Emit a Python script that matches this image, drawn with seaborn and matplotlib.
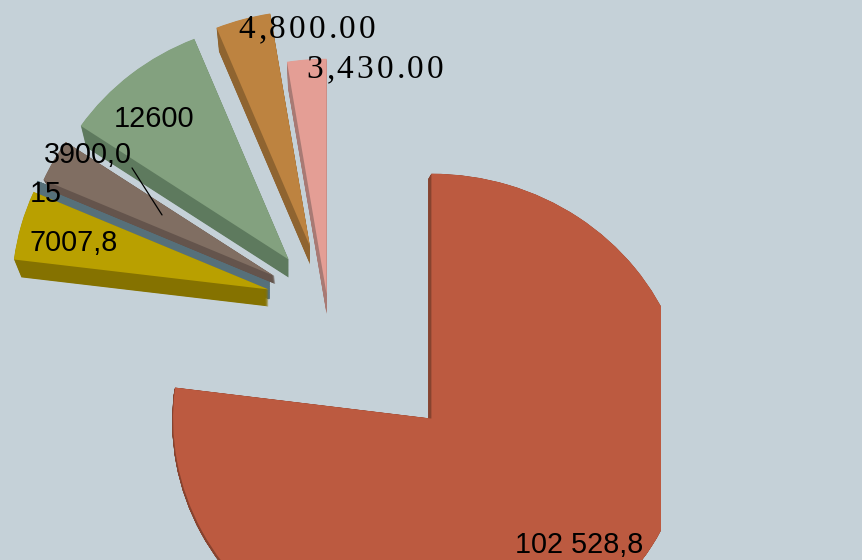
import numpy as np
import seaborn as sns
import matplotlib.pyplot as plt
from matplotlib.patches import Wedge, Rectangle

values = [102528.8, 7007.8, 15, 3900.0, 12600, 4800, 3430]
labels = ['102 528,8', '7007,8', '15', '3900,0', '12600', '4,800.00', '3,430.00']
top_colors = ['#bc5a40', '#b9a000', '#5b747c', '#806e62', '#83a17f', '#bd8340', '#e49e95']
side_colors = ['#87432f', '#857200', '#56707a', '#64544c', '#5e7a5e', '#8f6430', '#a87a74']

# look of the exploded 3d pie
explode = [142, 67, 68, 70, 70, 67, 17]
nudge_x = [2, 9, 7, 11, 7, 1, 0]
nudge_y = [3, -5, -6, -1, 3, 0, 0]
radius_scale = [1.02, 1.013, 1.0, 0.996, 0.992, 0.983, 0.98]
depth_x = [-3, 0, 0, 1, 0, 0, 0]
depth_y = [3, 17, 21, 8, 18, 18, 20]
shrink = [2, 7, 6, 6, 6, 6, 6]
side_lw = [0, 0, 1.0, 0, 0, 0, 0]
layer = [3, 3, 2, 3, 3, 3, 3]
bg = '#c5d1d8'
x_stretch = 1.055

sns.set_theme(style='white', rc={'figure.facecolor': bg, 'axes.facecolor': bg})

fig = plt.figure(figsize=(8.621, 5.601), dpi=100)
ax = fig.add_axes([0, 0, 1, 1])

wedges, _ = ax.pie(values, explode=explode, colors=sns.color_palette(top_colors),
                   startangle=90, counterclock=False, radius=240,
                   center=(328 / x_stretch, 560 - 311))
ax.set_aspect('auto')
ax.set_xlim(0, 862 / x_stretch)
ax.set_ylim(0, 560)
ax.axis('off')

# perspective opens the edge between the first two slices a little
wedges[0].set_theta1(wedges[0].theta1 - 2.4)
wedges[1].set_theta2(wedges[1].theta2 - 2.2)

clip_box = Rectangle((0, 0), 661 / x_stretch, 560, transform=ax.transData)

for i, w in enumerate(wedges):
    r = w.r * radius_scale[i]
    w.set_radius(r)
    w.set_center((w.center[0] + nudge_x[i] / x_stretch, w.center[1] - nudge_y[i]))
    w.set_linewidth(0)
    w.set_zorder(layer[i])
    # side face, swept down under the top face
    for t in np.linspace(1, 0.02, 32):
        side = Wedge((w.center[0] + depth_x[i] * t / x_stretch, w.center[1] - depth_y[i] * t),
                     r - shrink[i] * t, w.theta1, w.theta2,
                     facecolor=side_colors[i], edgecolor=side_colors[i],
                     linewidth=side_lw[i], zorder=layer[i] - 0.5)
        ax.add_patch(side)
        if i == 0:
            side.set_clip_path(clip_box)
    if i == 0:
        w.set_clip_on(True)
        w.set_clip_path(clip_box)


def put(s, x, y, **kw):
    fig.text(x / 862, 1 - y / 560, s, color='black', va='baseline', zorder=10, **kw)


def spaced(s, x, y, size, step):
    # serif labels have wide letter spacing
    for ch in s:
        put(ch, x, y, family='Liberation Serif', fontsize=size)
        x += step * (0.5 if ch in ',.' else 1)


put(labels[0], 515, 553, family='Liberation Sans', fontsize=20.7)
put(labels[1], 29, 251, family='Liberation Sans', fontsize=20.7)
put(labels[2], 30, 202, family='Liberation Sans', fontsize=20.7)
put(labels[3], 44, 163, family='Liberation Sans', fontsize=20.7)
put(labels[4], 114, 127, family='Liberation Sans', fontsize=20.8)
spaced(labels[5], 238, 38, 24, 20.2)
spaced(labels[6], 306, 78, 24, 20.2)

ax.plot([132 / x_stretch, 162 / x_stretch], [560 - 168, 560 - 215], color='black', lw=0.9, zorder=9)

fig.savefig('out.png', dpi=100, facecolor=bg)
